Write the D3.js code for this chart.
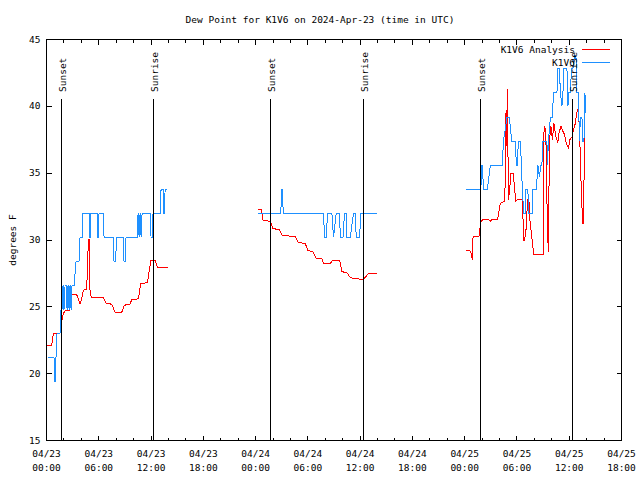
<!DOCTYPE html>
<html><head><meta charset="utf-8">
<script src="https://cdn.jsdelivr.net/npm/d3@7"></script>
<style>
body{margin:0;background:#fff}
svg{display:block}
text{font-family:"DejaVu Sans Mono",monospace;font-size:9.5px;fill:#000}
</style></head><body>
<svg id="chart" width="640" height="480"></svg>
<script>
// hours since 2024-04-23 00:00 UTC, dew point in °F
const analysisDay1 = [[0.09,22.1],[0.60,22.1],[0.78,23.0],[1.55,23.0],[1.75,23.9],[1.93,24.5],[2.13,24.7],[2.62,24.7],[2.78,25.2],[2.89,25.9],[3.47,25.9],[3.65,25.6],[3.85,25.2],[4.04,25.6],[4.23,26.25],[4.54,26.3],[4.69,27.25],[4.80,30.05],[4.92,30.05],[5.00,26.0],[5.19,25.7],[6.53,25.7],[6.84,25.25],[7.49,25.2],[7.87,24.6],[8.64,24.6],[8.90,25.05],[9.21,25.2],[9.59,25.2],[9.79,25.55],[10.55,25.6],[10.82,26.75],[11.58,26.8],[11.81,27.75],[11.97,28.45],[12.46,28.45],[12.73,27.95],[13.99,27.95]];
const analysisDay2 = [[24.22,32.3],[24.68,32.3],[24.84,31.5],[25.68,31.38],[25.99,30.87],[26.74,30.75],[27.02,30.38],[27.78,30.3],[28.55,30.25],[28.93,29.8],[29.70,29.75],[30.01,29.2],[30.58,29.13],[30.96,28.63],[31.61,28.63],[31.80,28.25],[32.57,28.25],[32.88,28.5],[33.64,28.5],[33.91,27.63],[34.49,27.55],[34.87,27.18],[35.63,27.1],[36.39,27.05],[36.70,27.3],[36.97,27.5],[37.93,27.5]];
const analysisDay3 = [[48.19,29.25],[48.57,29.25],[48.73,29.0],[48.91,28.5],[48.96,30.25],[49.60,30.25],[49.72,30.4],[49.80,31.3],[50.03,31.5],[50.18,31.55],[50.75,31.55],[50.95,31.4],[51.14,31.55],[51.79,31.55],[51.90,32.0],[52.10,32.75],[52.56,32.9],[52.67,34.5],[52.73,39.5],[52.79,37],[52.90,41.3],[53.02,33.0],[53.19,34.0],[53.30,35.0],[53.59,35.0],[53.70,34.0],[53.88,32.9],[54.05,33.0],[54.62,33.0],[54.74,30.75],[54.80,30.0],[54.91,30.0],[54.97,30.75],[55.08,30.75],[55.20,33.0],[55.37,33.0],[55.49,31.5],[55.66,30.5],[55.83,29.5],[55.89,28.9],[57.04,28.9],[57.09,38.0],[57.21,38.5],[57.32,37.7],[57.50,30.75],[57.61,29.1],[57.73,37.5],[57.90,38.5],[58.07,37.5],[58.24,38.75],[58.47,37.7],[58.70,37.3],[58.82,38.0],[59.05,38.5],[59.22,38.2],[59.45,37.9],[59.68,37.2],[59.91,36.9],[60.08,37.5],[60.31,37.7],[60.48,38.2],[60.71,38.75],[60.83,39.4],[61.00,39.8],[61.17,38.5],[61.34,34.7],[61.46,32.5],[61.57,31.25],[61.65,31.25],[61.75,38.0],[61.80,40.0],[61.92,40.0]];
const stationDay1 = [[0.17,21.2],[0.86,21.2],[0.95,19.4],[1.03,19.4],[1.09,21.2],[1.21,23],[1.55,23],[1.67,24.8],[1.78,24.8],[1.90,26.6],[2.01,24.8],[2.13,26.6],[2.24,26.6],[2.36,24.8],[2.47,26.6],[2.59,24.8],[2.70,26.6],[2.82,24.8],[2.93,26.6],[3.16,26.6],[3.39,28.4],[3.73,28.4],[3.85,30.2],[4.08,30.2],[4.19,32],[4.88,32],[4.94,30.2],[5.05,30.2],[5.11,32],[5.80,32],[5.86,30.2],[5.97,30.2],[6.03,32],[6.50,32],[6.61,30.2],[7.64,30.2],[7.75,28.4],[7.93,28.4],[8.04,30.2],[8.79,30.2],[8.90,28.4],[9.02,28.4],[9.13,30.2],[10.40,30.2],[10.51,32],[10.63,30.2],[10.74,32],[10.86,30.2],[10.97,32],[11.89,32],[12.00,30.2],[12.12,30.2],[12.23,32],[13.04,32],[13.15,33.8],[13.38,33.8],[13.44,32],[13.56,32],[13.61,33.8],[13.84,33.8]];
const stationDay2 = [[24.22,32],[26.90,32],[26.97,33.8],[27.09,33.8],[27.17,32],[31.80,32],[31.91,30.2],[32.11,30.2],[32.26,32],[32.76,32],[32.94,30.2],[33.25,32],[33.64,32],[33.72,30.2],[34.03,30.2],[34.21,32],[34.41,32],[34.49,30.2],[34.87,30.2],[35.24,32],[35.44,32],[35.55,30.2],[35.93,30.2],[36.09,32],[37.93,32]];
const stationDay3 = [[48.19,33.8],[49.86,33.8],[49.94,35.6],[50.03,35.6],[50.09,34.7],[50.20,33.8],[50.60,33.8],[50.78,34.7],[50.95,35.6],[52.33,35.6],[52.44,37.4],[52.67,38.3],[52.84,39.2],[53.13,39.2],[53.25,38.3],[53.42,37.4],[53.82,37.4],[53.93,35.6],[54.05,35.6],[54.16,37.4],[54.39,37.4],[54.51,35.6],[54.62,33.8],[54.77,32],[54.93,32],[55.03,33.8],[55.26,33.8],[55.31,32],[55.77,32],[55.83,33.8],[56.23,33.8],[56.40,35.6],[56.58,34.7],[56.75,35.6],[56.86,35.6],[56.98,37.4],[57.44,37.4],[57.50,35.6],[57.61,37.4],[57.84,39.2],[58.07,39.2],[58.19,41],[58.59,41],[58.70,42.8],[58.87,42.8],[58.99,41],[59.16,40],[59.28,41],[59.37,42.8],[59.74,42.8],[59.85,40],[59.97,41],[60.14,41],[60.25,42.8],[60.42,42.8],[60.60,43.8],[60.77,43.8],[60.89,41],[61.06,41],[61.17,37.4],[61.29,39.2],[61.46,39.2],[61.57,37.4],[61.69,37.4],[61.80,41],[61.92,39.5]];
const sunsetHours = [1.63, 25.71, 49.73];
const sunriseHours = [12.27, 36.31, 60.33];
const yTicks = [15, 20, 25, 30, 35, 40, 45];
const seriesNames = ["K1V6 Analysis", "K1V6"];
const seriesColors = ["#ff0000", "#1e90ff"];
const titleText = "Dew Point for K1V6 on 2024-Apr-23 (time in UTC)";
const yLabel = "degrees F";

const start = Date.UTC(2024, 3, 23);
const toDate = h => new Date(start + h * 3600e3);
const svg = d3.select("#chart");

const x = d3.scaleUtc().domain([toDate(0), toDate(66)]).range([46.5, 621.5]);
const y = d3.scaleLinear().domain([15, 45]).range([440.5, 39.5]);

const majorTicks = d3.utcHour.every(6).range(toDate(0), toDate(66.01));
const minorTicks = d3.utcHour.every(2).range(toDate(0), toDate(66.01)).filter(d => d.getUTCHours() % 6 !== 0);
const fmtDay = d3.utcFormat("%m/%d"), fmtTime = d3.utcFormat("%H:%M");

function styleAxis(g){ g.select(".domain").remove(); g.selectAll("line").attr("stroke","#000").attr("shape-rendering","crispEdges"); }

// bottom axis
const gB = svg.append("g").attr("transform","translate(0,440.5)")
  .call(d3.axisBottom(x).tickValues(majorTicks).tickSizeInner(-5).tickSizeOuter(0).offset(0).tickFormat(fmtDay));
gB.selectAll(".tick text").attr("dy", null).each(function(d){
  const t = d3.select(this); t.text(null);
  t.append("tspan").attr("x",0).attr("y",16).text(fmtDay(d));
  t.append("tspan").attr("x",0).attr("y",30).text(fmtTime(d));
});
styleAxis(gB);
svg.append("g").attr("transform","translate(0,440.5)")
  .call(d3.axisBottom(x).tickValues(minorTicks).tickSizeInner(-3).tickSizeOuter(0).offset(0).tickFormat(""))
  .call(styleAxis);
// top mirror
svg.append("g").attr("transform","translate(0,39.5)")
  .call(d3.axisTop(x).tickValues(majorTicks).tickSizeInner(-5).tickSizeOuter(0).offset(0).tickFormat(""))
  .call(styleAxis);
svg.append("g").attr("transform","translate(0,39.5)")
  .call(d3.axisTop(x).tickValues(minorTicks).tickSizeInner(-3).tickSizeOuter(0).offset(0).tickFormat(""))
  .call(styleAxis);
// left / right
const gL = svg.append("g").attr("transform","translate(46.5,0)")
  .call(d3.axisLeft(y).tickValues(yTicks).tickSizeInner(-5).tickSizeOuter(0).tickPadding(6).offset(0).tickFormat(d3.format("d")));
styleAxis(gL);
svg.append("g").attr("transform","translate(621.5,0)")
  .call(d3.axisRight(y).tickValues(yTicks).tickSizeInner(-5).tickSizeOuter(0).offset(0).tickFormat(""))
  .call(styleAxis);

// border
svg.append("rect").attr("x",46.5).attr("y",39.5).attr("width",575).attr("height",401)
  .attr("fill","none").attr("stroke","#000").attr("shape-rendering","crispEdges");

// data
const line = d3.line().x(d => x(toDate(d[0]))).y(d => y(d[1]));
const dataG = svg.append("g");
[analysisDay1, analysisDay2, analysisDay3].forEach(s => dataG.append("path").attr("d", line(s)).attr("fill","none").attr("stroke",seriesColors[0]).attr("stroke-width",1).attr("shape-rendering","crispEdges"));
[stationDay1, stationDay2, stationDay3].forEach(s => dataG.append("path").attr("d", line(s)).attr("fill","none").attr("stroke",seriesColors[1]).attr("stroke-width",1).attr("shape-rendering","crispEdges"));

// sunset/sunrise markers
const marks = sunsetHours.map(h => ({h, label:"Sunset"})).concat(sunriseHours.map(h => ({h, label:"Sunrise"})));
marks.forEach(m => {
  const px = Math.round(x(toDate(m.h))) + 0.5;
  svg.append("line").attr("x1",px).attr("x2",px).attr("y1",99).attr("y2",440)
    .attr("stroke","#000").attr("shape-rendering","crispEdges");
  svg.append("text").attr("transform",`translate(${px+0.5},92) rotate(-90)`)
    .attr("dominant-baseline","central").attr("text-anchor","start").text(m.label);
});

// title & y label
svg.append("text").attr("x",320).attr("y",23).attr("text-anchor","middle").text(titleText);
svg.append("text").attr("transform","translate(12,240) rotate(-90)").attr("text-anchor","middle")
  .attr("dominant-baseline","central").text(yLabel);

// legend
seriesNames.forEach((n,i) => {
  const ly = 49.5 + i*13;
  svg.append("text").attr("x",575).attr("y",ly).attr("text-anchor","end").attr("dominant-baseline","central").text(n);
  svg.append("line").attr("x1",582).attr("x2",610).attr("y1",ly).attr("y2",ly)
    .attr("stroke",seriesColors[i]).attr("shape-rendering","crispEdges");
});
</script></body></html>
